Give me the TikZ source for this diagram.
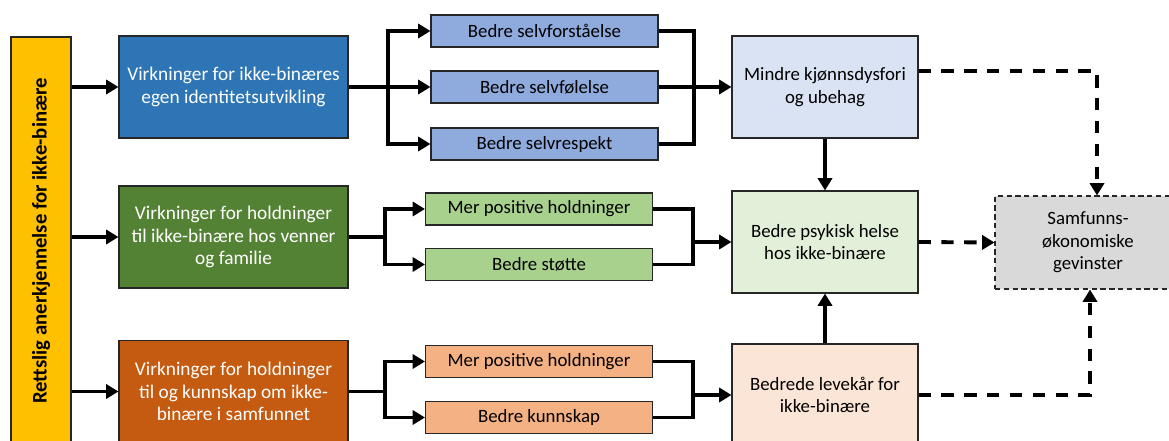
\documentclass[tikz,border=0pt]{standalone}
\usepackage{fontspec}
\setmainfont{Carlito}
\usetikzlibrary{arrows.meta, positioning}
\definecolor{BarYellow}{RGB}{255,192,0}
\definecolor{MainBlue}{RGB}{46,117,182}
\definecolor{MainGreen}{RGB}{84,130,53}
\definecolor{MainOrange}{RGB}{197,90,17}
\definecolor{LightBlue}{RGB}{143,170,220}
\definecolor{LightGreen}{RGB}{169,209,142}
\definecolor{LightOrange}{RGB}{244,177,131}
\definecolor{PaleBlue}{RGB}{218,227,243}
\definecolor{PaleGreen}{RGB}{226,240,217}
\definecolor{PaleOrange}{RGB}{251,229,214}
\definecolor{PaleGray}{RGB}{217,217,217}

\begin{document}
\begin{tikzpicture}[x=0.2mm, y=-0.2mm,
    box/.style={draw=black!85, line width=0.6pt, align=center, inner sep=2pt,
      font=\fontsize{10.7}{12.9}\selectfont},
    bigbox/.style={box, minimum width=229*0.2mm, minimum height=102*0.2mm, text=white,
      font=\fontsize{11}{12.9}\selectfont},
    smallbox/.style={box, minimum width=227*0.2mm, minimum height=32*0.2mm},
    effectbox/.style={box, minimum width=186*0.2mm, minimum height=102*0.2mm},
    plain/.style={line width=2.2pt},
    link/.style={plain, -{Triangle[length=7pt, width=8pt]}},
    dlink/.style={link, dash pattern=on 7pt off 6pt}]
    \clip (0,0) rectangle (1169,441);

    % Legal recognition bar
    \node[box, fill=BarYellow, rotate=90, minimum width=408*0.2mm, minimum height=60*0.2mm,
      font=\bfseries\fontsize{11.8}{13}\selectfont] (bar) at (41,241) {Rettslig anerkjennelse for ikke-binære};

    % First-level effects
    \node[bigbox, fill=MainBlue] (blue) at (233.5,87) {Virkninger for ikke-binæres\\egen identitetsutvikling};
    \node[bigbox, fill=MainGreen] (green) at (233.5,237) {Virkninger for holdninger\\til ikke-binære hos venner\\og familie};
    \node[bigbox, fill=MainOrange] (orange) at (233.5,391.5) {Virkninger for holdninger\\til og kunnskap om ikke-\\binære i samfunnet};

    \foreach \t in {blue, green, orange}
      \draw[link] (bar.south |- \t.west) -- (\t.west);

    % Intermediate effects
    \node[smallbox, fill=LightBlue] (s1) at (544.5,31) {Bedre selvforståelse};
    \node[smallbox, fill=LightBlue] (s2) at (544.5,87) {Bedre selvfølelse};
    \node[smallbox, fill=LightBlue] (s3) at (544.5,144) {Bedre selvrespekt};
    \node[smallbox, fill=LightGreen] (g1) at (539,209) {Mer positive holdninger};
    \node[smallbox, fill=LightGreen] (g2) at (539,264.5) {Bedre støtte};
    \node[smallbox, fill=LightOrange] (o1) at (539,361.5) {Mer positive holdninger};
    \node[smallbox, fill=LightOrange] (o2) at (539,417.5) {Bedre kunnskap};

    % Outcomes
    \node[effectbox, fill=PaleBlue] (mindre) at (825,87) {Mindre kjønnsdysfori\\og ubehag};
    \node[effectbox, fill=PaleGreen] (helse) at (825,242) {Bedre psykisk helse\\hos ikke-binære};
    \node[effectbox, fill=PaleOrange] (levekaar) at (825,395) {Bedrede levekår for\\ikke-binære};
    \node[box, fill=PaleGray, dash pattern=on 3pt off 2pt, minimum width=186*0.2mm,
      minimum height=93*0.2mm] (gevinst) at (1088,242.5) {Samfunns-\\økonomiske\\gevinster};

    % Branch points
    \coordinate (bl) at (388,87);
    \coordinate (br) at (694,87);
    \coordinate (gl) at (385,237);
    \coordinate (gr) at (693,242);
    \coordinate (ol) at (385,391.5);
    \coordinate (or) at (693,395);

    \draw[plain] (blue.east) -- (bl);
    \foreach \s in {s1, s2, s3} {
      \draw[link] (bl) |- (\s.west);
      \draw[plain] (\s.east) -| (br);
    }
    \draw[link] (br) -- (mindre.west);

    \draw[plain] (green.east) -- (gl);
    \foreach \s in {g1, g2} {
      \draw[link] (gl) |- (\s.west);
      \draw[plain] (\s.east) -| (gr);
    }
    \draw[link] (gr) -- (helse.west);

    \draw[plain] (orange.east) -- (ol);
    \foreach \s in {o1, o2} {
      \draw[link] (ol) |- (\s.west);
      \draw[plain] (\s.east) -| (or);
    }
    \draw[link] (or) -- (levekaar.west);

    \draw[link] (mindre) -- (helse);
    \draw[link] (levekaar) -- (helse);

    % Dashed links to the economic gains
    \draw[dlink] ([yshift=3.2mm]mindre.east) -| ([xshift=1.8mm]gevinst.north);
    \draw[dlink] (helse.east) -- (gevinst.west);
    \draw[dlink] (levekaar.east) -| ([xshift=0.4mm]gevinst.south);
\end{tikzpicture}
\end{document}
